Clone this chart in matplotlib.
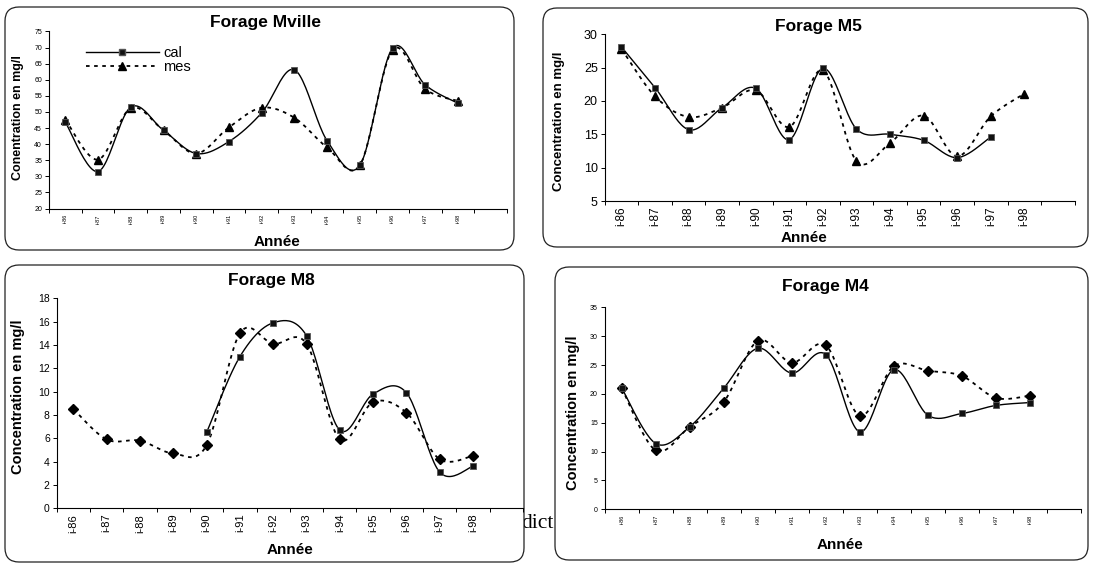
import matplotlib
matplotlib.use("Agg")
import matplotlib.pyplot as plt
from matplotlib.patches import FancyBboxPatch
from matplotlib.lines import Line2D
import numpy as np

plt.rcParams['font.family'] = ['Liberation Sans', 'DejaVu Sans']

# ---- données ----
annees = ['i-86', 'i-87', 'i-88', 'i-89', 'i-90', 'i-91', 'i-92',
          'i-93', 'i-94', 'i-95', 'i-96', 'i-97', 'i-98']

mville_cal = [46.8, 31.5, 51.5, 44.3, 37.1, 40.8, 49.7, 63.1, 41.1, 33.4, 69.8, 58.4, 52.7]
mville_mes = [47.6, 35.2, 51.2, 44.3, 37.1, 45.2, 51.3, 48.2, 39.0, 33.4, 69.3, 57.1, 53.4]

m5_cal = [28.1, 22.0, 15.7, 19.0, 21.9, 14.2, 24.9, 15.8, 15.0, 14.1, 11.5, 14.6, np.nan]
m5_mes = [27.8, 20.7, 17.6, 19.0, 21.6, 16.1, 24.6, 11.0, 13.7, 17.8, 11.7, 17.7, 21.1]

m8_cal = [np.nan, np.nan, np.nan, np.nan, 6.5, 13.0, 15.9, 14.8, 6.7, 9.8, 9.9, 3.1, 3.6]
m8_mes = [8.5, 5.9, 5.8, 4.7, 5.4, 15.0, 14.1, 14.1, 5.9, 9.1, 8.2, 4.2, 4.5]

m4_cal = [21.0, 11.4, 14.3, 21.0, 27.9, 23.6, 26.8, 13.4, 24.2, 16.3, 16.6, 18.0, 18.5]
m4_mes = [21.0, 10.2, 14.3, 18.6, 29.2, 25.4, 28.4, 16.2, 24.8, 24.0, 23.1, 19.3, 19.7]

W, H = 1093, 563
POINTILLE = (0, (2, 2.5))


def lisse(y, n=24):
    # courbe lissée type Excel (bezier catmull-rom), coupée aux valeurs manquantes
    y = np.asarray(y, float)
    xs_out, ys_out = [], []
    ok = ~np.isnan(y)
    idx = np.arange(len(y))
    runs = np.split(idx[ok], np.where(np.diff(idx[ok]) != 1)[0] + 1)
    for run in runs:
        if len(run) < 2:
            continue
        P = np.column_stack([run.astype(float), y[run]])
        P = np.vstack([P[0], P, P[-1]])
        xx, yy = [], []
        for i in range(1, len(P) - 2):
            p0, p1, p2, p3 = P[i - 1], P[i], P[i + 1], P[i + 2]
            c1 = p1 + (p2 - p0) / 6
            c2 = p2 - (p3 - p1) / 6
            t = np.linspace(0, 1, n)[:, None]
            b = (1 - t) ** 3 * p1 + 3 * (1 - t) ** 2 * t * c1 + 3 * (1 - t) * t ** 2 * c2 + t ** 3 * p2
            xx.extend(b[:, 0]); yy.extend(b[:, 1])
        xs_out.append(np.array(xx)); ys_out.append(np.array(yy))
    return xs_out, ys_out


def px_axes(fig, x0, y0, x1, y1):
    return fig.add_axes([x0 / W, 1 - y1 / H, (x1 - x0) / W, (y1 - y0) / H])


fig = plt.figure(figsize=(W / 100, H / 100), dpi=100)

# fond: cadres arrondis + bout de texte du document
fond = fig.add_axes([0, 0, 1, 1])
fond.set_xlim(0, W)
fond.set_ylim(H, 0)
fond.axis('off')
fond.text(521, 528, 'dict', fontsize=15.5, family=['Liberation Serif'], zorder=1)
cadres = [(5, 7, 514, 250), (543, 8, 1088, 247), (5, 265, 524, 562), (555, 267, 1088, 560)]
for (a, b, c, d) in cadres:
    fond.add_patch(FancyBboxPatch((a + 14, b + 14), c - a - 28, d - b - 28,
                                  boxstyle="round,pad=14", fc='white', ec='#222222',
                                  lw=0.9, zorder=2))

panneaux = [
    dict(titre='Forage Mville', cal=mville_cal, mes=mville_mes, mk='^',
         ax=(49, 31.4, 507, 208.6), ylim=(20, 75), pas=5, fy=5, fx=4,
         ttl=(265, 22), xl=(277, 242), yl=(18, 118), ytxt='Conentration en mg/l', yfs=9),
    dict(titre='Forage M5', cal=m5_cal, mes=m5_mes, mk='^',
         ax=(604.7, 34.3, 1074.7, 201), ylim=(5, 30), pas=5, fy=9, fx=8.5,
         ttl=(818, 27), xl=(804, 238), yl=(559, 121), ytxt='Concentration en mg/l', yfs=9.5),
    dict(titre='Forage M8', cal=m8_cal, mes=m8_mes, mk='D',
         ax=(56.7, 298.3, 523, 508.3), ylim=(0, 18), pas=2, fy=7.5, fx=8,
         ttl=(271, 280), xl=(290, 550), yl=(18, 397), ytxt='Concentration en mg/l', yfs=10.5),
    dict(titre='Forage M4', cal=m4_cal, mes=m4_mes, mk='D',
         ax=(604.7, 307.3, 1081, 509.3), ylim=(0, 35), pas=5, fy=5, fx=4,
         ttl=(825, 287), xl=(840, 545), yl=(573, 413), ytxt='Concentration en mg/l', yfs=10.5),
]

x = np.arange(len(annees))
for p in panneaux:
    ax = px_axes(fig, *p['ax'])
    ax.patch.set_alpha(0)
    # mesuré: pointillé
    for xx, yy in zip(*lisse(p['mes'])):
        ax.plot(xx, yy, color='black', lw=1.3, ls=POINTILLE)
    ax.plot(x, p['mes'], ls='none', marker=p['mk'], ms=5.5 if p['mk'] == '^' else 5,
            color='black')
    # calculé: trait plein
    for xx, yy in zip(*lisse(p['cal'])):
        ax.plot(xx, yy, color='black', lw=1.0)
    ax.plot(x, p['cal'], ls='none', marker='s', ms=5, color='#111111',
            mec='#555555', mew=0.6)

    ax.set_xlim(-0.5, 13.5)
    ax.set_ylim(*p['ylim'])
    ax.set_yticks(np.arange(p['ylim'][0], p['ylim'][1] + 0.1, p['pas']))
    ax.set_xticks(x)
    ax.set_xticklabels(annees, rotation=90, fontsize=p['fx'])
    ax.set_xticks(np.arange(-0.5, 14, 1), minor=True)
    ax.tick_params(axis='x', which='major', length=0, pad=4)
    ax.tick_params(axis='x', which='minor', length=3, width=0.7, direction='out')
    ax.tick_params(axis='y', length=3, width=0.7, labelsize=p['fy'], pad=2)
    for s in ['top', 'right']:
        ax.spines[s].set_visible(False)
    for s in ['left', 'bottom']:
        ax.spines[s].set_linewidth(0.8)

    fig.text(p['ttl'][0] / W, 1 - p['ttl'][1] / H, p['titre'], ha='center', va='center',
             fontsize=12.5, fontweight='bold')
    fig.text(p['xl'][0] / W, 1 - p['xl'][1] / H, 'Année', ha='center', va='center',
             fontsize=11, fontweight='bold')
    fig.text(p['yl'][0] / W, 1 - p['yl'][1] / H, p['ytxt'], ha='center', va='center',
             rotation=90, fontsize=p['yfs'], fontweight='bold')

    if p['titre'] == 'Forage Mville':
        hc = Line2D([], [], color='black', lw=1.0, marker='s', ms=5, mfc='#111111', mec='#555555')
        hm = Line2D([], [], color='black', lw=1.3, ls=POINTILLE, marker='^', ms=5.5)
        ax.legend([hc, hm], ['cal', 'mes'], loc='upper left', frameon=False,
                  bbox_to_anchor=((86 - 49) / (507 - 49), (208.6 - 46) / (208.6 - 31.4)),
                  fontsize=10.5, handlelength=5, labelspacing=0, borderpad=0,
                  borderaxespad=0, handletextpad=0.3)

fig.savefig('out.png', dpi=100)
